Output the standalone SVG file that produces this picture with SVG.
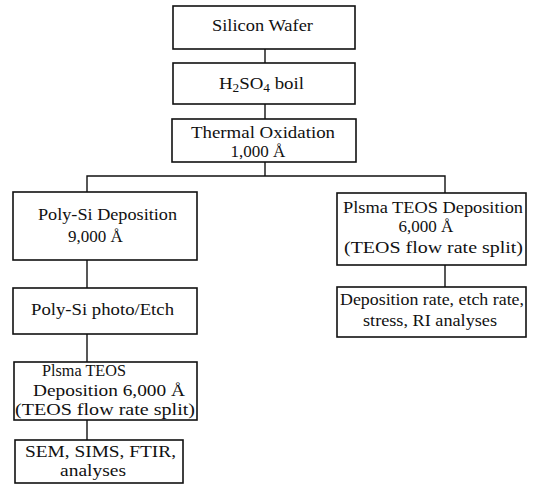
<svg xmlns="http://www.w3.org/2000/svg" width="537" height="485" viewBox="0 0 537 485">
<style>
.box{fill:#fff;stroke:#111;stroke-width:1.6}
.t{font-family:"Liberation Serif","Times New Roman",serif;font-size:17px;fill:#111}
.c{text-anchor:middle}
.ln{stroke:#111;stroke-width:1.4;fill:none}
</style>
<rect width="537" height="485" fill="#fff"/>
<g id="connectors">
<line class="ln" x1="265" y1="49" x2="265" y2="63"/>
<line class="ln" x1="265" y1="104" x2="265" y2="119"/>
<line class="ln" x1="265" y1="162" x2="265" y2="176"/>
<polyline class="ln" points="87,192 87,176 445,176 445,193"/>
<line class="ln" x1="87" y1="260" x2="87" y2="288"/>
<line class="ln" x1="87" y1="334" x2="87" y2="362"/>
<line class="ln" x1="87" y1="420" x2="87" y2="440"/>
<line class="ln" x1="445" y1="265" x2="445" y2="287"/>
</g>
<g id="n1">
<rect class="box" x="173" y="6" width="182" height="43"/>
<text class="t" x="212" y="31" textLength="101" lengthAdjust="spacingAndGlyphs">Silicon Wafer</text>
</g>
<g id="n2">
<rect class="box" x="173" y="63" width="182" height="41"/>
<text class="t" x="219" y="89" textLength="85" lengthAdjust="spacingAndGlyphs">H<tspan font-size="12" dy="3">2</tspan><tspan dy="-3">SO</tspan><tspan font-size="12" dy="3">4</tspan><tspan dy="-3"> boil</tspan></text>
</g>
<g id="n3">
<rect class="box" x="172" y="119" width="184" height="43"/>
<text class="t" x="191" y="138" textLength="144" lengthAdjust="spacingAndGlyphs">Thermal Oxidation</text>
<text class="t c" x="258" y="157">1,000 Å</text>
</g>
<g id="n4">
<rect class="box" x="13" y="192" width="184" height="68"/>
<text class="t" x="38" y="220" textLength="139" lengthAdjust="spacingAndGlyphs">Poly-Si Deposition</text>
<text class="t" x="68" y="242">9,000 Å</text>
</g>
<g id="n5">
<rect class="box" x="13" y="288" width="184" height="46"/>
<text class="t" x="31" y="315" textLength="143" lengthAdjust="spacingAndGlyphs">Poly-Si photo/Etch</text>
</g>
<g id="n6">
<rect class="box" x="14" y="362" width="183" height="58"/>
<text class="t" x="42" y="376" textLength="84" lengthAdjust="spacingAndGlyphs">Plsma TEOS</text>
<text class="t" x="33" y="396" textLength="152" lengthAdjust="spacingAndGlyphs">Deposition 6,000 Å</text>
<text class="t" x="15" y="415" textLength="180" lengthAdjust="spacingAndGlyphs">(TEOS flow rate split)</text>
</g>
<g id="n7">
<rect class="box" x="15" y="440" width="168" height="43"/>
<text class="t" x="25" y="457" textLength="151" lengthAdjust="spacingAndGlyphs">SEM, SIMS, FTIR,</text>
<text class="t" x="60" y="476" textLength="66" lengthAdjust="spacingAndGlyphs">analyses</text>
</g>
<g id="n8">
<rect class="box" x="337" y="193" width="189" height="72"/>
<text class="t" x="343" y="213" textLength="180" lengthAdjust="spacingAndGlyphs">Plsma TEOS Deposition</text>
<text class="t c" x="426" y="232">6,000 Å</text>
<text class="t" x="344" y="253" textLength="179" lengthAdjust="spacingAndGlyphs">(TEOS flow rate split)</text>
</g>
<g id="n9">
<rect class="box" x="337" y="287" width="189" height="50"/>
<text class="t" x="340" y="305" textLength="184" lengthAdjust="spacingAndGlyphs">Deposition rate, etch rate,</text>
<text class="t" x="363" y="326" textLength="134" lengthAdjust="spacingAndGlyphs">stress, RI analyses</text>
</g>
</svg>
